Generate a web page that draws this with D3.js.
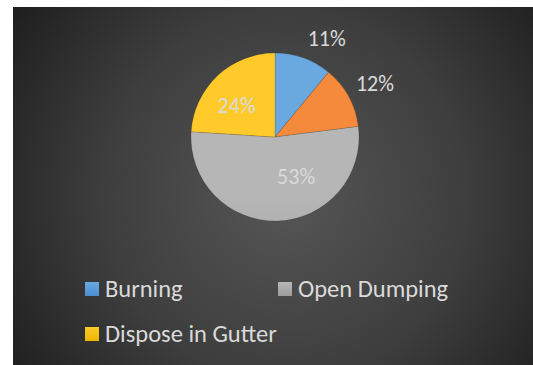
<!DOCTYPE html>
<html>
<head>
<meta charset="utf-8">
<script src="https://cdn.jsdelivr.net/npm/d3@7"></script>
<style>
  html, body { margin: 0; padding: 0; background: #ffffff; }
  svg { display: block; }
  text { font-family: Calibri, Carlito, Lato, "Open Sans", sans-serif; }
</style>
</head>
<body>
<svg id="chart" width="533" height="365"></svg>
<script>
// Disposal methods and their shares (percent), clockwise from 12 o'clock
const categories = ["Burning", "Other", "Open Dumping", "Dispose in Gutter"];
const shares = [11, 12, 53, 24];
const sliceLabels = ["11%", "12%", "53%", "24%"];
// Entries listed in the legend (the unnamed slice has none)
const legendItems = ["Burning", "Open Dumping", "Dispose in Gutter"];

const colorTop = {
  "Burning": "#6aa8e0",
  "Other": "#f58a3c",
  "Open Dumping": "#b6b6b6",
  "Dispose in Gutter": "#ffca2a"
};
const colorBottom = {
  "Burning": "#4a8ed0",
  "Other": "#e8701c",
  "Open Dumping": "#9d9d9d",
  "Dispose in Gutter": "#edb600"
};

const W = 533, H = 365;
const svg = d3.select("#chart");
const defs = svg.append("defs");

// Dark panel with a soft radial light
const bg = defs.append("radialGradient")
  .attr("id", "panelGrad")
  .attr("gradientUnits", "userSpaceOnUse")
  .attr("cx", 285).attr("cy", 195).attr("r", 330);
bg.append("stop").attr("offset", "0%").attr("stop-color", "#565656");
bg.append("stop").attr("offset", "55%").attr("stop-color", "#3e3e3e");
bg.append("stop").attr("offset", "100%").attr("stop-color", "#1e1e1e");

svg.append("rect")
  .attr("x", 13).attr("y", 7)
  .attr("width", W - 13).attr("height", H - 7)
  .attr("fill", "url(#panelGrad)");

// Pie geometry
const cx = 275, cy = 137, radius = 84;

categories.forEach((c, i) => {
  const g = defs.append("linearGradient")
    .attr("id", "slice" + i)
    .attr("gradientUnits", "userSpaceOnUse")
    .attr("x1", 0).attr("y1", cy - radius)
    .attr("x2", 0).attr("y2", cy + radius);
  g.append("stop").attr("offset", "0%").attr("stop-color", colorTop[c]);
  g.append("stop").attr("offset", "100%").attr("stop-color", colorBottom[c]);
});

const pie = d3.pie().sort(null).value(d => d.value);
const arcs = pie(categories.map((c, i) => ({ name: c, value: shares[i], label: sliceLabels[i], idx: i })));
const arc = d3.arc().innerRadius(0).outerRadius(radius);

const gPie = svg.append("g").attr("transform", `translate(${cx},${cy})`);
gPie.selectAll("path")
  .data(arcs)
  .join("path")
  .attr("d", arc)
  .attr("fill", d => `url(#slice${d.data.idx})`)
  .attr("stroke", "rgba(0,0,0,0.18)")
  .attr("stroke-width", 0.7);

// Data label placement: polar offset (degrees from slice middle, radius factor)
const labelPlace = [
  [8, 1.32],
  [0.6, 1.35],
  [-26.5, 0.53],
  [-7.6, 0.59]
];
gPie.selectAll("text.pct")
  .data(arcs)
  .join("text")
  .attr("class", "pct")
  .attr("x", d => {
    const [da, rf] = labelPlace[d.data.idx];
    const a = (d.startAngle + d.endAngle) / 2 + da * Math.PI / 180;
    return Math.sin(a) * radius * rf;
  })
  .attr("y", d => {
    const [da, rf] = labelPlace[d.data.idx];
    const a = (d.startAngle + d.endAngle) / 2 + da * Math.PI / 180;
    return -Math.cos(a) * radius * rf;
  })
  .attr("text-anchor", "middle")
  .attr("dominant-baseline", "central")
  .attr("font-size", 22)
  .attr("fill", "#dadada")
  .text(d => d.data.label);

// Legend: two columns, wrapping to a second row
const legendCols = [85, 278];
const legendRows = [289, 334];
legendItems.forEach(d => {
  const i = categories.indexOf(d);
  const g = defs.append("linearGradient")
    .attr("id", "legend" + i)
    .attr("x1", 0).attr("y1", 0).attr("x2", 0).attr("y2", 1);
  g.append("stop").attr("offset", "0%").attr("stop-color", colorTop[d]);
  g.append("stop").attr("offset", "100%").attr("stop-color", colorBottom[d]);
});
const gLeg = svg.append("g");
const items = gLeg.selectAll("g")
  .data(legendItems)
  .join("g")
  .attr("transform", (d, i) => `translate(${legendCols[i % 2]},${legendRows[Math.floor(i / 2)]})`);
items.append("rect")
  .attr("x", 0).attr("y", -7)
  .attr("width", 14).attr("height", 14)
  .attr("fill", d => `url(#legend${categories.indexOf(d)})`);
items.append("text")
  .attr("x", 20).attr("y", 0)
  .attr("dominant-baseline", "central")
  .attr("font-size", 24.5)
  .attr("fill", "#dadada")
  .text(d => d);
</script>
</body>
</html>
